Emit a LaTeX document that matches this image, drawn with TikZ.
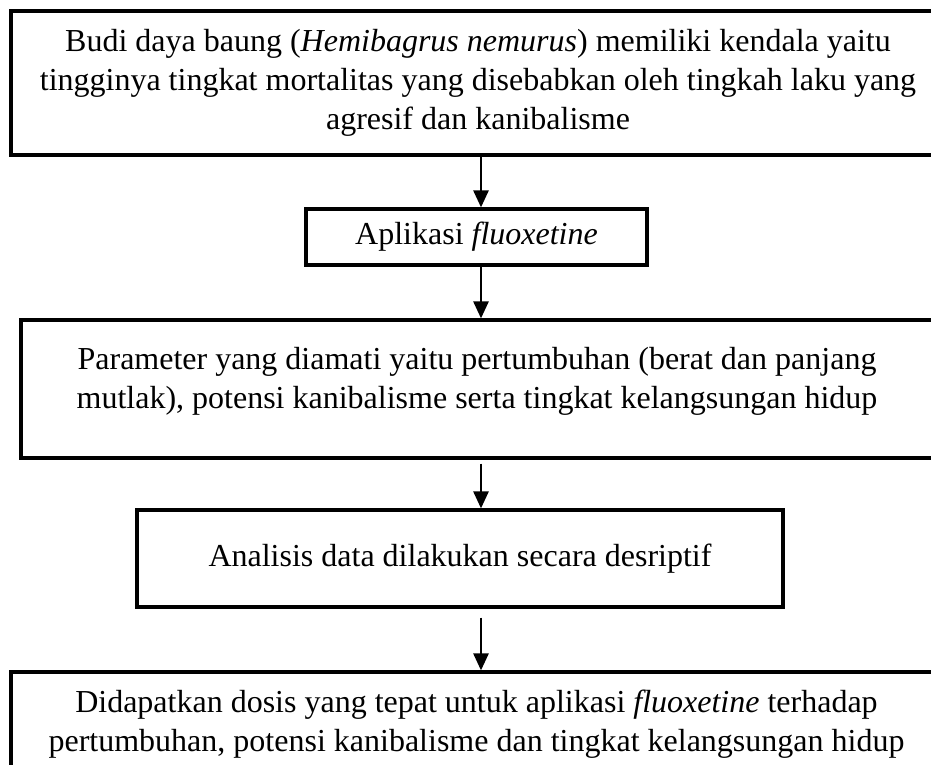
\documentclass[tikz,border=0pt]{standalone}
\usepackage{fontspec}
\setmainfont{Liberation Serif}
\usetikzlibrary{arrows.meta}

\begin{document}
\begin{tikzpicture} [
    x=1pt, y=-1pt,
    block/.style    = { rectangle, draw, line width=3.2pt, align=center,
                        inner sep=0pt, font=\fontsize{32}{39}\selectfont },
    line/.style     = { draw, line width=2.6pt,
                        -{Triangle[width=15pt,length=17pt]} },
  ]
  \useasboundingbox (0,0) rectangle (931,764);
  \clip (0,0) rectangle (931,764);

  % the boxes, top to bottom
  \node[block, minimum width=934pt, minimum height=144pt] (problem) at (478,83)
    {Budi daya baung (\textit{Hemibagrus nemurus}) memiliki kendala yaitu\\
     tingginya tingkat mortalitas yang disebabkan oleh tingkah laku yang\\
     agresif dan kanibalisme};
  \node[block, minimum width=341pt, minimum height=56pt] (fluox) at (476.5,237)
    {Aplikasi \textit{fluoxetine}};
  \node[block, minimum width=912pt, minimum height=138pt, text depth=23pt]
    (param) at (477,389)
    {Parameter yang diamati yaitu pertumbuhan (berat dan panjang\\
     mutlak), potensi kanibalisme serta tingkat kelangsungan hidup};
  \node[block, minimum width=646pt, minimum height=97pt] (analysis) at (460,558.5)
    {Analisis data dilakukan secara desriptif};
  \node[block, minimum width=931pt, minimum height=105pt] (result) at (476.5,724.5)
    {Didapatkan dosis yang tepat untuk aplikasi \textit{fluoxetine} terhadap\\
     pertumbuhan, potensi kanibalisme dan tingkat kelangsungan hidup};

  \coordinate (axis) at (481,0);

  % connect the boxes
  \path [line] (problem.south -| axis) -- (fluox.north -| axis);
  \path [line] (fluox.south -| axis) -- (param.north -| axis);
  \path [line, shorten <=4pt] (param.south -| axis) -- (analysis.north -| axis);
  \path [line, shorten <=9pt] (analysis.south -| axis) -- (result.north -| axis);
\end{tikzpicture}
\end{document}
